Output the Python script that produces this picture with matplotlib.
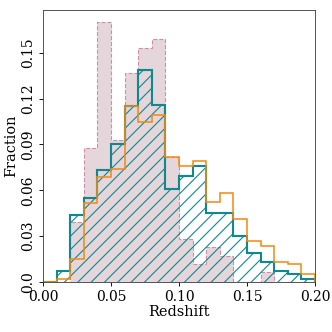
import numpy as np
import matplotlib
matplotlib.use("Agg")
import matplotlib.pyplot as plt

plt.rcParams['font.family'] = ['DejaVu Serif']
plt.rcParams['hatch.linewidth'] = 1.0

# bin edges, 0.01 wide
edges = np.round(np.arange(0.0, 0.201, 0.01), 3)

# fraction per bin
pink = [0.0, 0.0, 0.039, 0.088, 0.170, 0.093, 0.137, 0.153, 0.159, 0.082,
        0.028, 0.0117, 0.0226, 0.017, 0.0, 0.0, 0.0063, 0.0, 0.0, 0.0]
teal = [0.0, 0.0074, 0.0437, 0.0548, 0.073, 0.090, 0.115, 0.139, 0.1155, 0.0607,
        0.0694, 0.0759, 0.045, 0.045, 0.0298, 0.0187, 0.0128, 0.007, 0.0052, 0.002]
orange = [0.0, 0.002, 0.015, 0.052, 0.0687, 0.0737, 0.115, 0.105, 0.109, 0.082,
          0.0759, 0.079, 0.0524, 0.058, 0.0415, 0.0267, 0.0233, 0.0128, 0.0117, 0.0052]

yticks = [0.0, 0.03, 0.06, 0.09, 0.12, 0.15]
ylabels = ['0.0', '0.03', '0.06', '0.09', '0.12', '0.15']
xticks = [0.0, 0.05, 0.10, 0.15, 0.20]
xlabels = ['0.00', '0.05', '0.10', '0.15', '0.20']

fig = plt.figure(figsize=(4.15, 4.15), dpi=80)
ax = fig.add_axes([0.1295, 0.1506, 0.8195, 0.8194])

ax.stairs(pink, edges, fill=True, facecolor='#e4d6da', edgecolor='#d08ea8',
          linestyle='--', linewidth=1.0)
ax.stairs(teal, edges, fill=True, facecolor='none', edgecolor='#10888f',
          hatch='//', linewidth=1.9)
ax.stairs(orange, edges, color='#f28a12', linewidth=1.4)

ax.set_xlim(0, 0.2)
ax.set_ylim(0, 0.178)
ax.set_xticks(xticks)
ax.set_xticklabels(xlabels)
ax.set_yticks(yticks)
ax.set_yticklabels(ylabels, rotation=90, va='center')
ax.tick_params(labelsize=12.5, length=4)
ax.set_xlabel('Redshift', fontsize=13, labelpad=1)
ax.set_ylabel('Fraction', fontsize=13, labelpad=2)
for s in ax.spines.values():
    s.set_color('#444444')

fig.savefig('out.png', dpi=80)
